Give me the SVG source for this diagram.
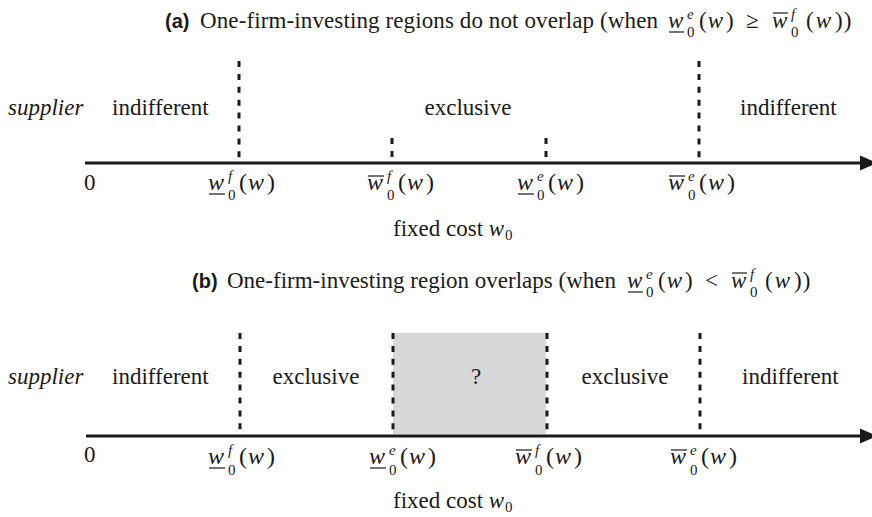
<svg xmlns="http://www.w3.org/2000/svg" width="872" height="517" viewBox="0 0 872 517">
  <style>
    text { font-family: "Liberation Serif", "Times New Roman", serif; fill: #1a1a1a; }
    .t { font-size: 23px; }
    .hd { font-family: "Liberation Sans", Arial, sans-serif; font-weight: bold; font-size: 20px; }
    .lb { font-size: 23px; }
    .it { font-style: italic; }
    .m { font-size: 24px; }
    .mt { font-size: 23px; }
    .sc { font-size: 15px; }
    .bar { stroke: #1a1a1a; stroke-width: 1.2; }
    .axis { stroke: #1a1a1a; stroke-width: 3; fill: none; }
    .tip { fill: #1a1a1a; }
    .dash { stroke: #1a1a1a; stroke-width: 3; stroke-dasharray: 6 6.9; fill: none; }
    .shade { fill: #d8d8da; }
  </style>

  <!-- ===== Panel (a) ===== -->
  <g id="title-a">
    <text class="hd" x="165" y="28">(a)</text>
    <text class="t" x="200" y="28" textLength="458" lengthAdjust="spacing">One-firm-investing regions do not overlap (when</text>
    <text class="mt it" x="668" y="28">w</text>
    <line class="bar" x1="669" x2="684" y1="32" y2="32"/>
    <text class="sc it" x="687" y="19">e</text>
    <text class="sc" x="687" y="37">0</text>
    <text class="mt" x="699" y="28">(<tspan class="it" dx="1">w</tspan><tspan dx="3">)</tspan></text>
    <text class="mt" x="746" y="28">≥</text>
    <text class="mt it" x="772" y="28">w</text>
    <line class="bar" x1="773" x2="788" y1="13" y2="13"/>
    <text class="sc it" x="791" y="19">f</text>
    <text class="sc" x="791" y="37">0</text>
    <text class="mt" x="806" y="28">(<tspan class="it" dx="2">w</tspan><tspan dx="4">)</tspan><tspan dx="1">)</tspan></text>
  </g>

  <g id="regions-a">
    <text class="lb it" x="8" y="115">supplier</text>
    <text class="lb" x="112" y="115">indifferent</text>
    <text class="lb" x="468" y="115" text-anchor="middle">exclusive</text>
    <text class="lb" x="740" y="115">indifferent</text>
  </g>

  <g id="connectors-a">
    <line class="axis" x1="85" y1="163" x2="862" y2="163"/>
    <polygon class="tip" points="860,155.5 877,163 860,170.5"/>
    <line class="dash" x1="239" y1="61" x2="239" y2="158"/>
    <line class="dash" x1="392" y1="138" x2="392" y2="158"/>
    <line class="dash" x1="546" y1="138" x2="546" y2="158"/>
    <line class="dash" x1="699" y1="61" x2="699" y2="158"/>
  </g>

  <g id="ticks-a">
    <text class="lb" x="84" y="190">0</text>
    <!-- lower bound, f -->
    <g id="a-wf-low">
      <text class="m it" x="208" y="190">w</text>
      <line class="bar" x1="209" x2="225" y1="194" y2="194"/>
      <text class="sc it" x="228" y="181">f</text>
      <text class="sc" x="228" y="200">0</text>
      <text class="m" x="239" y="190">(<tspan class="it" dx="1">w</tspan><tspan dx="3">)</tspan></text>
    </g>
    <!-- upper bound, f -->
    <g id="a-wf-up">
      <text class="m it" x="367" y="190">w</text>
      <line class="bar" x1="368" x2="384" y1="176" y2="176"/>
      <text class="sc it" x="387" y="181">f</text>
      <text class="sc" x="387" y="200">0</text>
      <text class="m" x="398" y="190">(<tspan class="it" dx="1">w</tspan><tspan dx="3">)</tspan></text>
    </g>
    <!-- lower bound, e -->
    <g id="a-we-low">
      <text class="m it" x="517" y="190">w</text>
      <line class="bar" x1="518" x2="534" y1="194" y2="194"/>
      <text class="sc it" x="537" y="181">e</text>
      <text class="sc" x="537" y="200">0</text>
      <text class="m" x="548" y="190">(<tspan class="it" dx="1">w</tspan><tspan dx="3">)</tspan></text>
    </g>
    <!-- upper bound, e -->
    <g id="a-we-up">
      <text class="m it" x="668" y="190">w</text>
      <line class="bar" x1="669" x2="685" y1="176" y2="176"/>
      <text class="sc it" x="688" y="181">e</text>
      <text class="sc" x="688" y="200">0</text>
      <text class="m" x="699" y="190">(<tspan class="it" dx="1">w</tspan><tspan dx="3">)</tspan></text>
    </g>
    <g id="axis-label-a">
      <text class="lb" x="393" y="236">fixed cost <tspan class="it">w</tspan></text>
      <text class="sc" x="505" y="240">0</text>
    </g>
  </g>

  <!-- ===== Panel (b) ===== -->
  <g id="title-b">
    <text class="hd" x="192" y="288">(b)</text>
    <text class="t" x="227" y="288">One-firm-investing region overlaps (when</text>
    <text class="mt it" x="627" y="288">w</text>
    <line class="bar" x1="628" x2="643" y1="292" y2="292"/>
    <text class="sc it" x="646" y="279">e</text>
    <text class="sc" x="646" y="297">0</text>
    <text class="mt" x="658" y="288">(<tspan class="it" dx="1">w</tspan><tspan dx="3">)</tspan></text>
    <text class="mt" x="705" y="288">&lt;</text>
    <text class="mt it" x="731" y="288">w</text>
    <line class="bar" x1="732" x2="747" y1="273" y2="273"/>
    <text class="sc it" x="750" y="279">f</text>
    <text class="sc" x="750" y="297">0</text>
    <text class="mt" x="765" y="288">(<tspan class="it" dx="2">w</tspan><tspan dx="4">)</tspan><tspan dx="1">)</tspan></text>
  </g>

  <rect id="overlap" class="shade" x="393" y="333" width="153" height="101"/>

  <g id="regions-b">
    <text class="lb it" x="8" y="384">supplier</text>
    <text class="lb" x="112" y="384">indifferent</text>
    <text class="lb" x="316" y="384" text-anchor="middle">exclusive</text>
    <text class="lb" x="476" y="384" text-anchor="middle">?</text>
    <text class="lb" x="625" y="384" text-anchor="middle">exclusive</text>
    <text class="lb" x="742" y="384">indifferent</text>
  </g>

  <g id="connectors-b">
    <line class="axis" x1="86" y1="436" x2="862" y2="436"/>
    <polygon class="tip" points="860,428.5 877,436 860,443.5"/>
    <line class="dash" x1="240" y1="333" x2="240" y2="430"/>
    <line class="dash" x1="393" y1="333" x2="393" y2="430"/>
    <line class="dash" x1="547" y1="333" x2="547" y2="430"/>
    <line class="dash" x1="700" y1="333" x2="700" y2="430"/>
  </g>

  <g id="ticks-b">
    <text class="lb" x="84" y="462">0</text>
    <g id="b-wf-low">
      <text class="m it" x="208" y="464">w</text>
      <line class="bar" x1="209" x2="225" y1="468" y2="468"/>
      <text class="sc it" x="228" y="455">f</text>
      <text class="sc" x="228" y="475">0</text>
      <text class="m" x="239" y="464">(<tspan class="it" dx="1">w</tspan><tspan dx="3">)</tspan></text>
    </g>
    <g id="b-we-low">
      <text class="m it" x="369" y="464">w</text>
      <line class="bar" x1="370" x2="386" y1="468" y2="468"/>
      <text class="sc it" x="389" y="455">e</text>
      <text class="sc" x="389" y="475">0</text>
      <text class="m" x="400" y="464">(<tspan class="it" dx="1">w</tspan><tspan dx="3">)</tspan></text>
    </g>
    <g id="b-wf-up">
      <text class="m it" x="515" y="464">w</text>
      <line class="bar" x1="516" x2="532" y1="450" y2="450"/>
      <text class="sc it" x="535" y="455">f</text>
      <text class="sc" x="535" y="475">0</text>
      <text class="m" x="546" y="464">(<tspan class="it" dx="1">w</tspan><tspan dx="3">)</tspan></text>
    </g>
    <g id="b-we-up">
      <text class="m it" x="670" y="464">w</text>
      <line class="bar" x1="671" x2="687" y1="450" y2="450"/>
      <text class="sc it" x="690" y="455">e</text>
      <text class="sc" x="690" y="475">0</text>
      <text class="m" x="701" y="464">(<tspan class="it" dx="1">w</tspan><tspan dx="3">)</tspan></text>
    </g>
    <g id="axis-label-b">
      <text class="lb" x="393" y="508">fixed cost <tspan class="it">w</tspan></text>
      <text class="sc" x="505" y="512">0</text>
    </g>
  </g>
</svg>
